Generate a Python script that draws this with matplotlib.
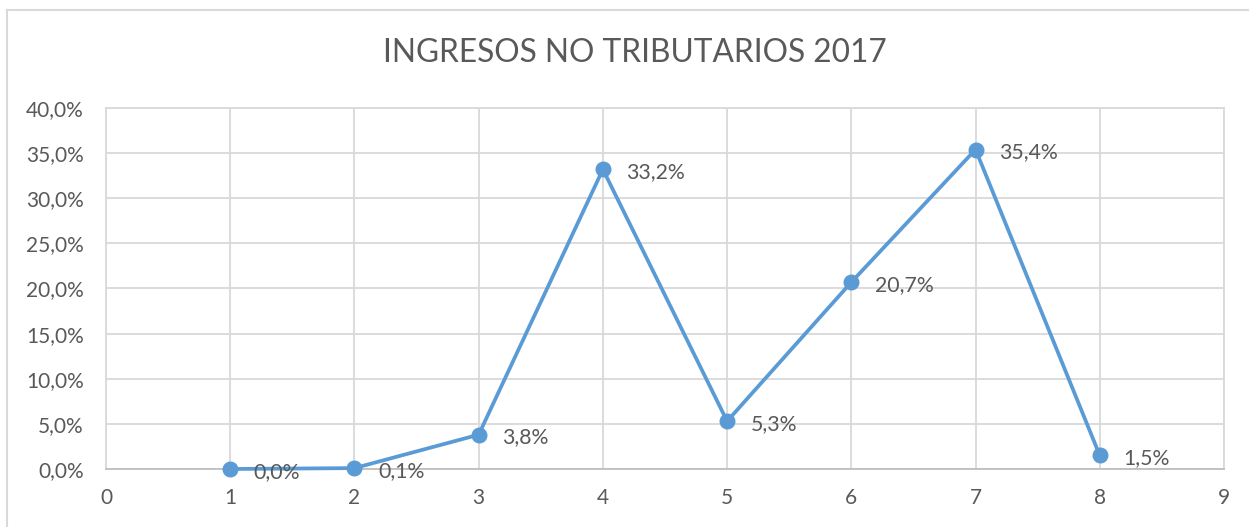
import matplotlib
matplotlib.use("Agg")
import matplotlib.pyplot as plt
from matplotlib.lines import Line2D
from matplotlib.ticker import FuncFormatter

plt.rcParams['font.family'] = ['Lato', 'DejaVu Sans']

# data
x_vals = [1, 2, 3, 4, 5, 6, 7, 8]
pct_vals = [0.0, 0.1, 3.8, 33.2, 5.3, 20.7, 35.4, 1.5]
title = 'INGRESOS NO TRIBUTARIOS 2017'

line_color = '#5B9BD5'
text_color = '#595959'
grid_color = '#D9D9D9'

fig = plt.figure(figsize=(12.49, 5.27), dpi=100)
ax = fig.add_axes([106 / 1249, 1 - 469 / 527, (1224 - 106) / 1249, (469 - 108) / 527])

ax.plot(x_vals, pct_vals, color=line_color, lw=2.7, marker='o', ms=10.5,
        zorder=3, clip_on=False)
for xv, yv in zip(x_vals, pct_vals):
    lbl = f'{yv:.1f}%'.replace('.', ',')
    ax.annotate(lbl, (xv, yv), xytext=(17, -2), textcoords='offset points',
                va='center', ha='left', fontsize=15.3, color=text_color, zorder=4)

ax.set_xlim(0, 9)
ax.set_ylim(0, 40)
ax.set_xticks(range(0, 10))
ax.set_yticks(range(0, 41, 5))
ax.yaxis.set_major_formatter(FuncFormatter(lambda v, p: f'{v:.1f}%'.replace('.', ',')))
ax.grid(True, color=grid_color, lw=1.3)
ax.set_axisbelow(True)
for s in ax.spines.values():
    s.set_color(grid_color)
    s.set_linewidth(1.3)
ax.spines['bottom'].set_color('#BFBFBF')
ax.tick_params(length=0, labelsize=15, labelcolor=text_color)
ax.tick_params(axis='y', pad=16)
ax.tick_params(axis='x', pad=14)

fig.text(0.508, 1 - 53 / 527, title, ha='center', va='center',
         fontsize=22.8, color=text_color)

# outer chart border (only top and left visible in the crop)
fig.add_artist(Line2D([7 / 1249, 1], [1 - 10 / 527] * 2, color=grid_color, lw=1.5,
                      transform=fig.transFigure))
fig.add_artist(Line2D([7 / 1249] * 2, [0, 1 - 10 / 527], color=grid_color, lw=1.5,
                      transform=fig.transFigure))

fig.savefig('out.png', dpi=100)
